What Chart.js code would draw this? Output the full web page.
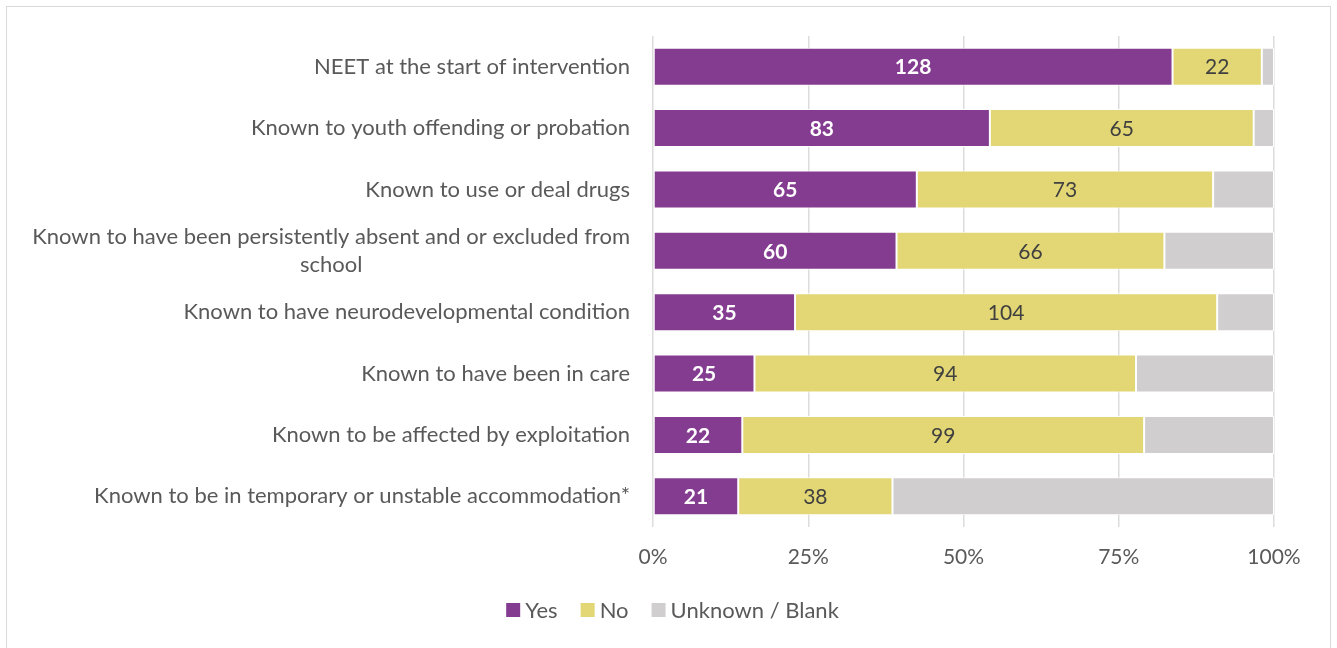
<!DOCTYPE html>
<html>
<head>
<meta charset="utf-8">
<title>Cohort characteristics</title>
<script src="https://cdn.jsdelivr.net/npm/chart.js@4/dist/chart.umd.min.js"></script>
<style>
  html, body { margin: 0; padding: 0; background: #fff; }
  #frame { position: absolute; left: 6px; top: 6px; width: 1323px; height: 660px; border: 1px solid #d9d9d9; }
  #wrap { position: absolute; left: 0; top: 0; width: 1337px; height: 648px; }
</style>
</head>
<body>
<div id="frame"></div>
<div id="wrap"><canvas id="chart"></canvas></div>
<script>
// categories top to bottom
const categories = [
  'NEET at the start of intervention',
  'Known to youth offending or probation',
  'Known to use or deal drugs',
  ['Known to have been persistently absent and or excluded from', 'school'],
  'Known to have neurodevelopmental condition',
  'Known to have been in care',
  'Known to be affected by exploitation',
  'Known to be in temporary or unstable accommodation*'
];
// counts per category
const yesCounts     = [128, 83, 65, 60, 35, 25, 22, 21];
const noCounts      = [22, 65, 73, 66, 104, 94, 99, 38];
const unknownCounts = [3, 5, 15, 27, 14, 34, 32, 94];
const xTicks = [0, 25, 50, 75, 100];

const seriesNames = ['Yes', 'No', 'Unknown / Blank'];
const seriesColors = ['#843c90', '#e2d774', '#d0cece'];

const FONT = 'Lato, "Open Sans", sans-serif';
const TXT = '#595959';

const totals = yesCounts.map((v, i) => v + noCounts[i] + unknownCounts[i]);
const pct = arr => arr.map((v, i) => v / totals[i] * 100);
const counts = [yesCounts, noCounts, unknownCounts];

// category labels, wrapped lines centred on each other, block right-aligned
const yLabels = {
  id: 'yLabels',
  afterDraw(chart) {
    const { ctx, scales: { y }, chartArea } = chart;
    ctx.save();
    ctx.font = '22px ' + FONT;
    ctx.fillStyle = TXT;
    ctx.textAlign = 'center';
    ctx.textBaseline = 'middle';
    categories.forEach((lab, i) => {
      const lines = Array.isArray(lab) ? lab : [lab];
      const w = Math.max(...lines.map(l => ctx.measureText(l).width));
      const cx = chartArea.left - 23 - w / 2;
      const cy = y.getPixelForTick(i);
      lines.forEach((l, j) => ctx.fillText(l, cx, cy + (j - (lines.length - 1) / 2) * 28));
    });
    ctx.restore();
  }
};

// counts written inside the Yes and No segments
const barValues = {
  id: 'barValues',
  afterDatasetsDraw(chart) {
    const { ctx } = chart;
    ctx.save();
    ctx.textAlign = 'center';
    ctx.textBaseline = 'middle';
    [0, 1].forEach(d => {
      const meta = chart.getDatasetMeta(d);
      ctx.font = (d === 0 ? 'bold ' : '') + '21px ' + FONT;
      ctx.fillStyle = d === 0 ? '#ffffff' : '#404040';
      meta.data.forEach((bar, i) => {
        ctx.fillText(String(counts[d][i]), (bar.x + bar.base) / 2, bar.y + 1);
      });
    });
    ctx.restore();
  }
};

// compact legend under the axis: small square, tight gap, then name
const legendRow = {
  id: 'legendRow',
  afterDraw(chart) {
    const { ctx } = chart;
    const box = 14, gap = 5, space = 23;
    ctx.save();
    ctx.font = '22px ' + FONT;
    ctx.textBaseline = 'middle';
    ctx.textAlign = 'left';
    const widths = seriesNames.map(n => box + gap + ctx.measureText(n).width);
    const total = widths.reduce((a, b) => a + b, 0) + space * (widths.length - 1);
    let x = chart.width / 2 + 4 - total / 2;
    const cy = chart.height - 38;
    seriesNames.forEach((n, k) => {
      ctx.fillStyle = seriesColors[k];
      ctx.fillRect(x, cy - box / 2, box, box);
      ctx.fillStyle = TXT;
      ctx.fillText(n, x + box + gap, cy + 1);
      x += widths[k] + space;
    });
    ctx.restore();
  }
};

new Chart(document.getElementById('chart'), {
  type: 'bar',
  data: {
    labels: categories,
    datasets: seriesNames.map((name, k) => ({
      label: name,
      data: pct(counts[k]),
      backgroundColor: seriesColors[k],
      borderColor: '#ffffff',
      borderWidth: 1,
      borderSkipped: false,
      categoryPercentage: 1,
      barPercentage: 0.62
    }))
  },
  options: {
    indexAxis: 'y',
    responsive: true,
    maintainAspectRatio: false,
    animation: false,
    layout: { padding: { left: 0, right: 63, top: 36, bottom: 61 } },
    scales: {
      x: {
        stacked: true,
        min: 0, max: 100,
        afterBuildTicks: s => { s.ticks = xTicks.map(v => ({ value: v })); },
        afterFit: s => { s.height = 60; },
        grid: { color: '#dcdcdc', lineWidth: 1.5, drawTicks: false },
        border: { display: false },
        ticks: { color: TXT, font: { family: FONT, size: 21 }, padding: 18, callback: v => v + '%' }
      },
      y: {
        stacked: true,
        afterFit: s => { s.width = 653; },
        grid: { display: false },
        border: { display: false },
        ticks: { display: false }
      }
    },
    plugins: {
      legend: { display: false },
      tooltip: { enabled: false }
    }
  },
  plugins: [yLabels, barValues, legendRow]
});
</script>
</body>
</html>
